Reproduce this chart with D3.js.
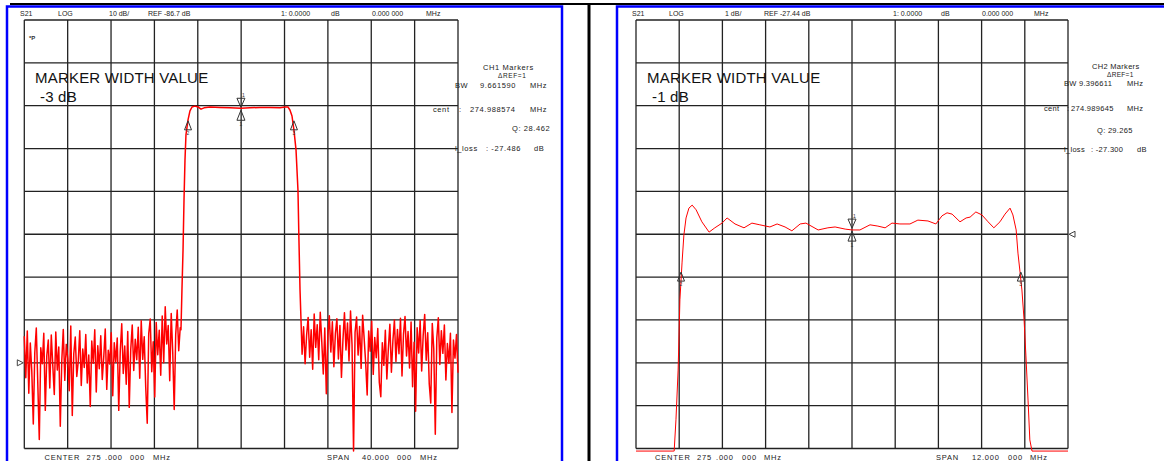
<!DOCTYPE html>
<html>
<head>
<meta charset="utf-8">
<script src="https://cdn.jsdelivr.net/npm/d3@7"></script>
<style>
     body { margin: 0; background: #fff; }
     text { font-family: "Liberation Sans", Arial, sans-serif; }
</style>
</head>
<body>
<div id="chart-area"></div>
<script>
/*
*    index.html  -  S21 of a 275 MHz band pass filter, two analyzer screens
*/

// ---------- CH1 : 10 dB/div, span 40 MHz ----------
var ch1HeaderText = ["S21", "LOG", "10 dB/", "REF -86.7 dB", "1: 0.0000", "dB", "0.000 000", "MHz"];
var ch1FooterText = ["CENTER", "275", ".000", "000", "MHz", "SPAN", "40.000", "000", "MHz"];
var ch1MarkerText = ["CH1 Markers", "\u0394REF=1", "BW", "9.661590", "MHz", "cent", ":", "274.988574", "MHz",
     "Q: 28.462", "l_loss", ": -27.486", "dB"];
var ch1Title = ["MARKER WIDTH VALUE", "-3 dB"];

// noise floor below the passband (sweep 255.0 .. 269.38 MHz), dB
var ch1NoiseLow = [-80.5, -90.2, -79.3, -93.8, -82.1, -88.7, -101.0, -84.3, -78.6, -91.5,
     -104.6, -83.2, -86.9, -79.8, -97.8, -85.1, -81.4, -92.6, -80.2, -87.3,
     -94.1, -79.5, -88.4, -83.0, -101.5, -86.2, -78.9, -90.8, -82.4, -85.7,
     -93.2, -78.1, -99.0, -84.6, -80.7, -89.9, -86.3, -79.2, -92.0, -83.5,
     -87.8, -80.1, -91.4, -84.9, -96.9, -81.6, -86.8, -79.0, -93.5, -82.7,
     -88.1, -80.4, -90.6, -85.3, -78.8, -92.9, -83.8, -87.0, -79.7, -94.4,
     -82.0, -86.5, -80.9, -97.8, -84.0, -77.6, -89.2, -82.8, -91.7, -79.4,
     -97.1, -83.6, -77.9, -88.5, -81.2, -86.0, -78.4, -90.3, -76.9, -85.9,
     -80.6, -92.4, -100.8, -79.9, -76.5, -88.8, -81.8, -94.7, -77.3, -84.8,
     -79.1, -89.6, -75.8, -86.7, -73.6, -82.3, -78.0, -90.9, -75.2, -84.1,
     -97.6, -80.0, -74.4, -83.9, -78.5];

// skirts and passband
var ch1PassFreq = [269.45, 269.54, 269.64, 269.73, 269.82, 269.91, 270.10, 270.28, 270.47, 270.74,
     271.02, 271.30, 271.58, 272.13, 273.05, 273.97, 274.98, 275.81, 276.74, 277.66,
     278.58, 279.04, 279.32, 279.50, 279.69, 279.87, 280.06, 280.24, 280.33, 280.43, 280.52];
var ch1PassDb = [-79.0, -69.7, -60.4, -48.7, -39.4, -33.5, -30.0, -27.9, -27.0, -26.8,
     -27.0, -27.5, -27.2, -27.0, -27.1, -27.2, -27.3, -27.2, -27.1, -27.1,
     -27.2, -27.0, -27.0, -27.7, -29.1, -32.4, -37.0, -46.4, -58.0, -69.7, -76.7];

// noise floor above the passband (sweep 280.62 .. 295.0 MHz), dB
var ch1NoiseHigh = [-84.7, -78.3, -86.9, -80.2, -76.1, -85.4, -79.0, -88.2, -75.3, -83.1,
     -77.8, -86.0, -74.9, -81.7, -89.3, -78.6, -93.9, -80.5, -75.7, -84.2,
     -77.1, -87.6, -79.9, -76.4, -85.8, -78.0, -90.1, -81.3, -75.0, -83.7,
     -77.4, -86.3, -74.6, -82.5, -107.3, -79.6, -76.0, -84.9, -78.2, -88.0,
     -75.6, -81.0, -86.7, -94.2, -79.3, -84.0, -77.0, -89.4, -80.8, -85.5,
     -78.7, -91.2, -94.6, -82.0, -87.3, -79.1, -90.5, -83.3, -77.7, -88.9,
     -81.5, -76.7, -86.4, -78.9, -84.6, -76.3, -89.8, -80.0, -75.9, -85.1,
     -79.4, -87.9, -77.2, -92.3, -81.9, -98.0, -78.5, -84.4, -76.8, -88.6,
     -80.3, -75.4, -86.1, -79.7, -91.6, -96.1, -77.5, -83.5, -103.4, -80.9,
     -76.2, -87.1, -79.2, -84.5, -77.9, -90.7, -82.2, -86.8, -79.8, -98.3,
     -81.4, -85.6, -80.1, -89.0];

var ch1MarkerFreq = [274.98, 270.10, 279.87];
var ch1MarkerDb = [-27.3, -30.0, -30.0];

// ---------- CH2 : 1 dB/div, span 12 MHz ----------
var ch2HeaderText = ["S21", "LOG", "1 dB/", "REF -27.44 dB", "1: 0.0000", "dB", "0.000 000", "MHz"];
var ch2FooterText = ["CENTER", "275", ".000", "000", "MHz", "SPAN", "12.000", "000", "MHz"];
var ch2MarkerText = ["CH2 Markers", "\u0394REF=1", "BW", "9.396611", "MHz", "cent", ":", "274.989645", "MHz",
     "Q: 29.265", "l_loss", ": -27.300", "dB"];
var ch2Title = ["MARKER WIDTH VALUE", "-1 dB"];

var ch2Freq = [269.00, 270.03, 270.06, 270.11, 270.17, 270.22, 270.28, 270.33, 270.39, 270.47,
     270.56, 270.67, 270.83, 271.03, 271.19, 271.39, 271.53, 271.75, 272.00, 272.22,
     272.44, 272.72, 272.92, 273.14, 273.33, 273.56, 273.72, 274.06, 274.33, 274.53,
     274.81, 275.00, 275.22, 275.50, 275.72, 275.92, 276.11, 276.33, 276.61, 276.83,
     277.11, 277.33, 277.50, 277.64, 277.78, 278.00, 278.17, 278.28, 278.44, 278.61,
     278.78, 278.94, 279.11, 279.25, 279.39, 279.47, 279.56, 279.61, 279.67, 279.72,
     279.78, 279.83, 279.89, 279.94, 280.00, 281.00];
var ch2Db = [-32.50, -32.50, -32.50, -31.77, -30.61, -28.97, -28.09, -27.46, -27.06, -26.83,
     -26.76, -26.87, -27.15, -27.39, -27.29, -27.18, -27.06, -27.20, -27.29, -27.18,
     -27.22, -27.27, -27.20, -27.27, -27.36, -27.20, -27.18, -27.34, -27.29, -27.27,
     -27.32, -27.34, -27.34, -27.22, -27.25, -27.29, -27.18, -27.20, -27.20, -27.11,
     -27.13, -27.20, -27.01, -26.94, -26.97, -27.15, -27.06, -27.04, -26.92, -26.99,
     -27.15, -27.29, -27.15, -26.97, -26.83, -26.99, -27.34, -27.88, -28.34, -28.74,
     -29.44, -30.26, -31.31, -32.24, -32.50, -32.50];

var ch2MarkerFreq = [275.00, 270.25, 279.69];
var ch2MarkerDb = [-27.32, -28.44, -28.44];

// ---------- layout ----------
var gy0 = 20, gy1 = 448.5;

var svg = d3.select("#chart-area").append("svg")
     .attr("width", 1164)
     .attr("height", 461);

svg.append("rect")
     .attr("width", 1164)
     .attr("height", 461)
     .attr("fill", "#fff");

// panel frames
svg.append("rect")
     .attr("x", 7).attr("y", 6.5)
     .attr("width", 555).attr("height", 480)
     .attr("fill", "none")
     .attr("stroke", "#0000ff")
     .attr("stroke-width", 2.5);

svg.append("rect")
     .attr("x", 617).attr("y", 6.5)
     .attr("width", 600).attr("height", 480)
     .attr("fill", "none")
     .attr("stroke", "#0000ff")
     .attr("stroke-width", 2.5);

svg.append("line")
     .attr("x1", 10).attr("x2", 1164)
     .attr("y1", 4).attr("y2", 4)
     .attr("stroke", "#000")
     .attr("stroke-width", 2);

svg.append("line")
     .attr("x1", 589).attr("x2", 589)
     .attr("y1", 3).attr("y2", 461)
     .attr("stroke", "#000")
     .attr("stroke-width", 3);

function sweep(values, f0, f1) {
     var idx = d3.scaleLinear().domain([0, values.length - 1]).range([f0, f1]);
     return values.map((v, i) => [idx(i), v]);
}

function pairs(fs, dbs) {
     return fs.map((f, i) => [f, dbs[i]]);
}

var ch1Trace = sweep(ch1NoiseLow, 255.0, 269.38)
     .concat(pairs(ch1PassFreq, ch1PassDb))
     .concat(sweep(ch1NoiseHigh, 280.62, 295.0));

var ch2Trace = pairs(ch2Freq, ch2Db);

var screens = [
     {
          gx0: 24.3, gx1: 458, fStart: 255, fStop: 295, ref: -86.7, dbDiv: 10, refDiv: 8, refSide: "left",
          trace: ch1Trace, width: 1.5,
          header: ch1HeaderText, headerX: [20, 58, 109, 148, 281, 331, 372, 426],
          footer: ch1FooterText, footerX: [44.5, 86.5, 105, 130, 153, 327, 362, 397, 420],
          mText: ch1MarkerText,
          mPos: [[483, 70], [498, 78], [455, 88], [480, 88], [530, 88], [433, 112], [459, 112], [470, 112], [530, 112],
               [512, 131], [455, 151], [486, 151], [534, 151]],
          mSpacing: 0.6,
          title: ch1Title, titleX: [35, 40],
          mFreq: ch1MarkerFreq, mDb: ch1MarkerDb, apex: 1
     },
     {
          gx0: 636, gx1: 1068, fStart: 269, fStop: 281, ref: -27.44, dbDiv: 1, refDiv: 5, refSide: "right",
          trace: ch2Trace, width: 1,
          header: ch2HeaderText, headerX: [632, 669, 725, 764, 893, 941, 982, 1034],
          footer: ch2FooterText, footerX: [655, 697, 716, 742, 764, 936, 972, 1008, 1030],
          mText: ch2MarkerText,
          mPos: [[1092, 69], [1107, 77], [1064, 86], [1079, 86], [1127, 86], [1044, 111], [1067, 111], [1071, 111], [1127, 111],
               [1097, 133], [1064, 152], [1091, 152], [1137, 152]],
          mSpacing: 0.3,
          title: ch2Title, titleX: [647, 652],
          mFreq: ch2MarkerFreq, mDb: ch2MarkerDb, apex: -5
     }
];

screens.forEach((p) => {

     var g = svg.append("g");
     var top = p.ref + p.refDiv * p.dbDiv;

     var x = d3.scaleLinear()
          .domain([p.fStart, p.fStop])
          .range([p.gx0, p.gx1]);

     var y = d3.scaleLinear()
          .domain([top, top - 10 * p.dbDiv])
          .range([gy0, gy1]);

     var fLines = d3.range(11).map((i) => p.fStart + i * (p.fStop - p.fStart) / 10);
     var dbLines = d3.range(11).map((i) => top - i * p.dbDiv);

     // graticule
     g.selectAll(".vgrid").data(fLines).enter()
          .append("line")
          .attr("x1", (d) => x(d)).attr("x2", (d) => x(d))
          .attr("y1", gy0).attr("y2", gy1)
          .attr("stroke", "#222")
          .attr("stroke-width", 1.3);

     g.selectAll(".hgrid").data(dbLines).enter()
          .append("line")
          .attr("x1", p.gx0).attr("x2", p.gx1)
          .attr("y1", (d) => y(d)).attr("y2", (d) => y(d))
          .attr("stroke", "#222")
          .attr("stroke-width", 1.3);

     // header / footer
     g.selectAll(".hdr").data(p.header).enter()
          .append("text")
          .attr("x", (d, i) => p.headerX[i])
          .attr("y", 16)
          .attr("font-size", 7)
          .attr("fill", "#222")
          .text((d) => d);

     g.selectAll(".ftr").data(p.footer).enter()
          .append("text")
          .attr("x", (d, i) => p.footerX[i])
          .attr("y", 460)
          .attr("font-size", 7.5)
          .attr("letter-spacing", 0.8)
          .attr("fill", "#222")
          .text((d) => d);

     // marker readout (the delta-ref line is set smaller)
     g.selectAll(".mtx").data(p.mText).enter()
          .append("text")
          .attr("x", (d, i) => p.mPos[i][0])
          .attr("y", (d, i) => p.mPos[i][1])
          .attr("font-size", (d, i) => i == 1 ? 6.5 : 7.5)
          .attr("letter-spacing", p.mSpacing)
          .attr("fill", "#222")
          .text((d) => d);

     // big title
     g.selectAll(".ttl").data(p.title).enter()
          .append("text")
          .attr("x", (d, i) => p.titleX[i])
          .attr("y", (d, i) => i == 0 ? 83 : 102)
          .attr("font-size", 15)
          .attr("letter-spacing", 0.2)
          .attr("fill", "#111")
          .text((d) => d);

     // trace
     var line = d3.line()
          .x((d) => x(d[0]))
          .y((d) => y(d[1]));

     g.append("path")
          .datum(p.trace)
          .attr("d", line)
          .attr("fill", "none")
          .attr("stroke", "#ff0000")
          .attr("stroke-width", p.width)
          .attr("stroke-linejoin", "round");

     // reference level arrow
     var ry = y(p.ref);
     var rx = p.refSide == "left" ? p.gx0 - 1 : p.gx1 + 1;
     var dir = p.refSide == "left" ? -1 : 1;
     g.append("path")
          .attr("d", "M" + rx + "," + ry + "L" + (rx + dir * 6) + "," + (ry - 3) + "L" + (rx + dir * 6) + "," + (ry + 3) + "Z")
          .attr("fill", "#fff")
          .attr("stroke", "#444")
          .attr("stroke-width", 1);

     // markers
     p.mFreq.forEach((f, i) => {
          var mx = x(f), my = y(p.mDb[i]);
          if (i == 0) {
               g.append("path")
                    .attr("d", "M" + mx + "," + (my - 1) + "L" + (mx - 4) + "," + (my - 10) + "L" + (mx + 4) + "," + (my - 10) + "Z")
                    .attr("fill", "none").attr("stroke", "#333").attr("stroke-width", 1);
               g.append("path")
                    .attr("d", "M" + mx + "," + (my + 2) + "L" + (mx - 4) + "," + (my + 12) + "L" + (mx + 4) + "," + (my + 12) + "Z")
                    .attr("fill", "none").attr("stroke", "#333").attr("stroke-width", 1);
               g.append("text")
                    .attr("x", mx + 1).attr("y", my - 11)
                    .attr("font-size", 5).attr("fill", "#333")
                    .text("1");
               g.append("text")
                    .attr("x", mx - 1.5).attr("y", my + 18)
                    .attr("font-size", 5).attr("fill", "#333")
                    .text("1");
          } else {
               var ay = my + p.apex;
               g.append("path")
                    .attr("d", "M" + mx + "," + ay + "L" + (mx - 3.5) + "," + (ay + 9) + "L" + (mx + 3.5) + "," + (ay + 9) + "Z")
                    .attr("fill", "none").attr("stroke", "#333").attr("stroke-width", 1);
               g.append("text")
                    .attr("x", mx - 1.5).attr("y", ay + 14)
                    .attr("font-size", 5).attr("fill", "#333")
                    .text(i + 1);
          }
     });

});

// small annotation glyph at top left of CH1
svg.append("text")
     .attr("x", 29).attr("y", 40)
     .attr("font-size", 6)
     .attr("font-weight", "bold")
     .attr("fill", "#333")
     .text("*P");

</script>
</body>
</html>
